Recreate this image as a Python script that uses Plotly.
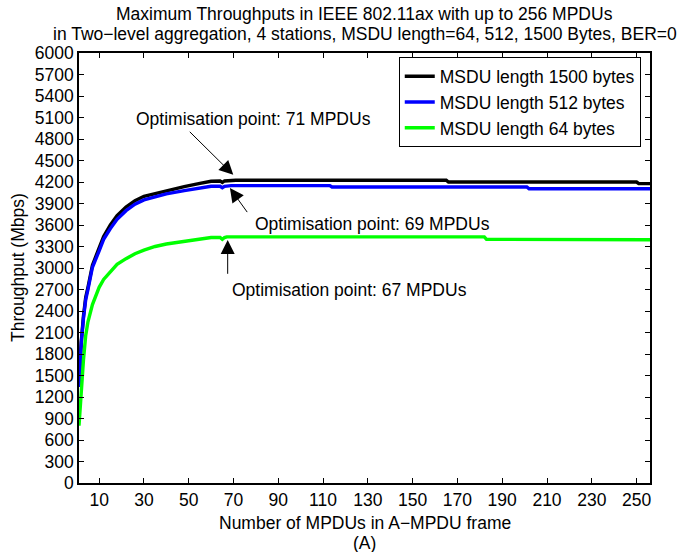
import plotly.graph_objects as go

# ---- data ----
x_1500 = [1, 2, 3, 4, 5, 7, 10, 12, 15, 18, 22, 26, 30, 35, 40, 48, 55, 60, 64, 65, 66, 71, 165, 166, 250, 251, 256]
y_1500 = [1360, 1970, 2330, 2590, 2730, 3040, 3280, 3440, 3600, 3730, 3850, 3940, 4000, 4040, 4080, 4135, 4180, 4210,
          4215, 4195, 4215, 4225, 4225, 4200, 4200, 4178, 4178]

x_512 = [1, 2, 3, 4, 5, 7, 10, 12, 15, 18, 22, 26, 30, 35, 40, 48, 55, 60, 64, 65, 66, 69, 113, 114, 201, 202, 256]
y_512 = [1340, 1950, 2300, 2560, 2700, 3010, 3240, 3400, 3550, 3680, 3800, 3890, 3950, 3990, 4035, 4080, 4115, 4140,
         4140, 4120, 4140, 4150, 4150, 4130, 4130, 4105, 4105]

x_64 = [1, 2, 3, 4, 5, 7, 10, 12, 15, 18, 22, 26, 30, 35, 40, 48, 55, 60, 64, 65, 66, 67, 182, 183, 256]
y_64 = [800, 1300, 1720, 2060, 2250, 2490, 2730, 2840, 2950, 3050, 3130, 3200, 3250, 3300, 3335, 3370, 3400, 3425,
        3425, 3400, 3425, 3435, 3435, 3400, 3395]

series_names = ["MSDU length 1500 bytes", "MSDU length 512 bytes", "MSDU length 64 bytes"]
series_colors = ["#000000", "#0000ff", "#00ff00"]

x_ticks = list(range(10, 251, 20))
y_ticks = list(range(0, 6001, 300))

title_lines = ["Maximum Throughputs in IEEE 802.11ax with up to 256 MPDUs",
               "in Two\u2212level aggregation, 4 stations, MSDU length=64, 512, 1500 Bytes, BER=0"]
x_title = ["Number of MPDUs in A\u2212MPDU frame", "(A)"]
y_title = "Throughput (Mbps)"

# optimisation-point annotations
opt_labels = ["Optimisation point: 71 MPDUs", "Optimisation point: 69 MPDUs", "Optimisation point: 67 MPDUs"]
opt_text_pos = [(79, 5085), (132, 3610), (122, 2698)]
opt_arrow_tail = [(49.8, 4921), (76.6, 3759), (67.4, 2898)]
opt_arrow_tip = [(69.9, 4300), (68.4, 4115), (67.4, 3390)]

FONT = "Liberation Sans, Arial, Helvetica, sans-serif"
FS = 17.5

fig = go.Figure()
for xs, ys, nm, col in zip([x_1500, x_512, x_64], [y_1500, y_512, y_64], series_names, series_colors):
    fig.add_trace(go.Scatter(x=xs, y=ys, mode="lines", name=nm,
                             line=dict(color=col, width=3.4)))

txtfont = dict(family=FONT, size=FS, color="black")
annotations = []
for lab, (tx, ty), (ax, ay), (hx, hy) in zip(opt_labels, opt_text_pos, opt_arrow_tail, opt_arrow_tip):
    annotations.append(dict(x=tx, y=ty, xref="x", yref="y", text=lab, showarrow=False,
                            font=txtfont, xanchor="center", yanchor="middle"))
    annotations.append(dict(x=hx, y=hy, xref="x", yref="y", ax=ax, ay=ay, axref="x", ayref="y",
                            text="", showarrow=True, arrowhead=2, arrowsize=2.8, arrowwidth=1,
                            arrowcolor="black", standoff=0, startstandoff=0))

# title lines
annotations.append(dict(x=0.5, y=1, xref="paper", yref="paper", text=title_lines[0], showarrow=False,
                        font=txtfont, xanchor="center", yanchor="middle", yshift=39))
annotations.append(dict(x=0.5, y=1, xref="paper", yref="paper", text=title_lines[1], showarrow=False,
                        font=txtfont, xanchor="center", yanchor="middle", yshift=19))
# x-axis title
annotations.append(dict(x=0.5, y=0, xref="paper", yref="paper", text=x_title[0], showarrow=False,
                        font=txtfont, xanchor="center", yanchor="middle", yshift=-40))
annotations.append(dict(x=0.5, y=0, xref="paper", yref="paper", text=x_title[1], showarrow=False,
                        font=txtfont, xanchor="center", yanchor="middle", yshift=-60))
# y-axis title
annotations.append(dict(x=0, y=0.5, xref="paper", yref="paper", text=y_title, showarrow=False, textangle=-90,
                        font=txtfont, xanchor="center", yanchor="middle", xshift=-61))

axis_common = dict(showline=True, linecolor="black", linewidth=1.5, mirror="ticks", ticks="inside",
                   ticklen=5, tickwidth=1, tickcolor="black", showgrid=False, zeroline=False,
                   tickfont=txtfont)

fig.update_layout(
    width=682, height=552,
    margin=dict(l=79, r=32, t=53, b=69),
    paper_bgcolor="white", plot_bgcolor="white",
    xaxis=dict(range=[1, 256], tickvals=x_ticks, ticktext=[str(v) for v in x_ticks], **axis_common),
    yaxis=dict(range=[0, 6000], tickvals=y_ticks, ticktext=[str(v) for v in y_ticks], **axis_common),
    legend=dict(x=0.56, y=0.99, xanchor="left", yanchor="top", bgcolor="white",
                bordercolor="black", borderwidth=1, font=txtfont, tracegroupgap=0),
    annotations=annotations,
    showlegend=True,
)

fig.write_html("out.html", config={"displayModeBar": False},
               post_script="document.body.style.margin='0px';document.body.style.padding='0px';")
